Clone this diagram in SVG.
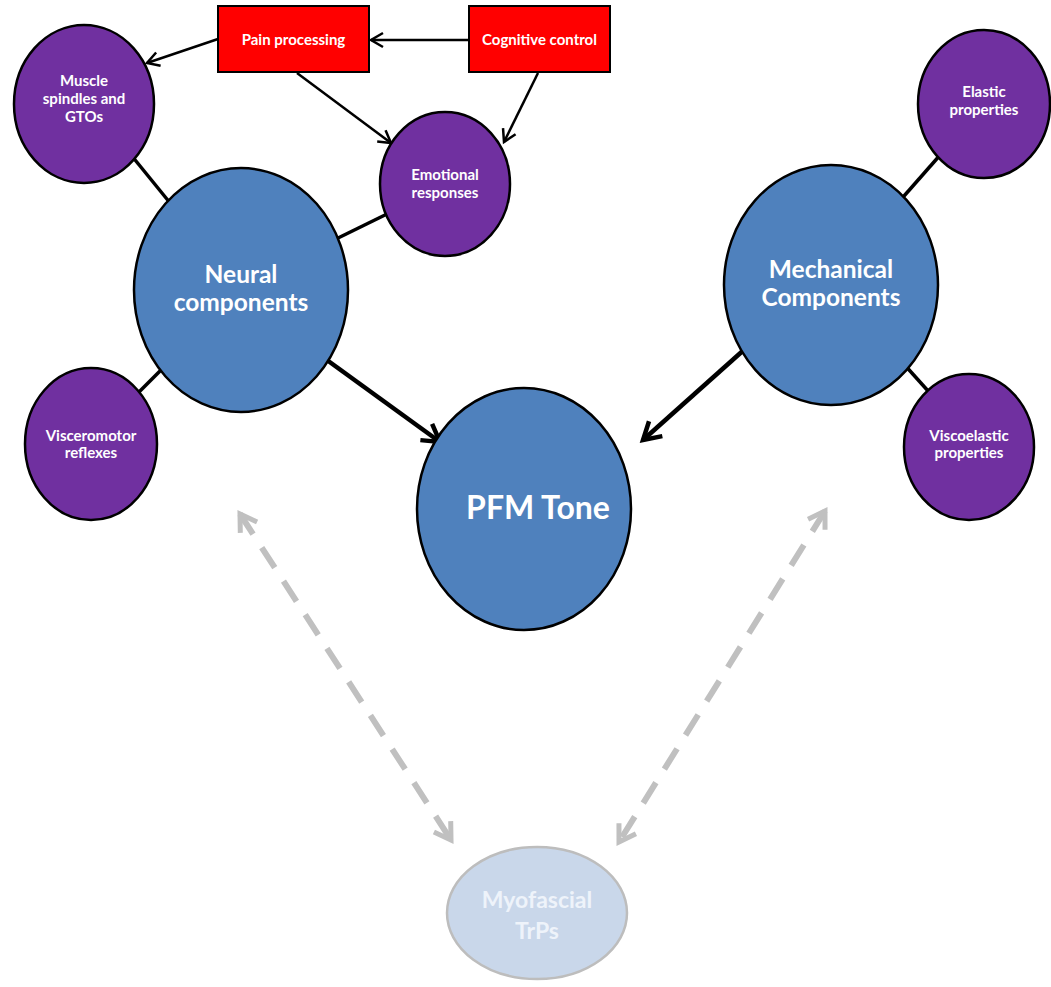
<svg xmlns="http://www.w3.org/2000/svg" width="1051" height="987" viewBox="0 0 1051 987">
<style>
.purple{fill:#7030a0;stroke:#000;stroke-width:2.5}
.blue{fill:#4f81bd;stroke:#000;stroke-width:2.5}
.red{fill:#ff0000;stroke:#000;stroke-width:2}
.faint{fill:#c9d7ea;stroke:#bdbdbd;stroke-width:2.5}
text{font-family:Lato,"Liberation Sans",sans-serif;font-weight:bold;fill:#fff;text-anchor:middle}
.s{font-size:15px}
.m{font-size:24.5px}
.l{font-size:32px}
.f{font-size:23px;fill:#eef3fa}
.thin{stroke:#000;stroke-width:2.5;fill:none}
.link{stroke:#000;stroke-width:3.5;fill:none}
.thick{stroke:#000;stroke-width:4.5;fill:none}
.dash{stroke:#c0c0c0;stroke-width:6;fill:none;stroke-dasharray:24 16}
</style>
<defs>
<marker id="a1" markerUnits="userSpaceOnUse" viewBox="-16 -10 18 20" refX="0" refY="0" markerWidth="18" markerHeight="20" orient="auto" overflow="visible"><path d="M-12,-7 L0,0 L-12,7" fill="none" stroke="#000" stroke-width="2.5"/></marker>
<marker id="a2" markerUnits="userSpaceOnUse" viewBox="-22 -14 24 28" refX="0" refY="0" markerWidth="24" markerHeight="28" orient="auto" overflow="visible"><path d="M-17,-10 L0,0 L-17,10" fill="none" stroke="#000" stroke-width="4.5"/></marker>
<marker id="a3" markerUnits="userSpaceOnUse" viewBox="-22 -14 24 28" refX="0" refY="0" markerWidth="24" markerHeight="28" orient="auto-start-reverse" overflow="visible"><path d="M-16,-10 L0,0 L-16,10" fill="none" stroke="#c0c0c0" stroke-width="5"/></marker>
</defs>
<g id="connectors">
<line class="link" x1="127" y1="150" x2="175" y2="209"/>
<line class="link" x1="387" y1="214" x2="334" y2="240"/>
<line class="link" x1="168" y1="363" x2="137" y2="394"/>
<line class="link" x1="897" y1="204" x2="941" y2="154"/>
<line class="link" x1="902" y1="362" x2="929" y2="392"/>
<line class="thin" x1="218" y1="39" x2="147" y2="63" marker-end="url(#a1)"/>
<line class="thin" x1="469" y1="40" x2="371" y2="40" marker-end="url(#a1)"/>
<line class="thin" x1="297" y1="73" x2="391" y2="143" marker-end="url(#a1)"/>
<line class="thin" x1="538" y1="73" x2="504" y2="142" marker-end="url(#a1)"/>
<line class="thick" x1="320" y1="355" x2="440" y2="442" marker-end="url(#a2)"/>
<line class="thick" x1="746" y1="348" x2="643" y2="440" marker-end="url(#a2)"/>
<line class="dash" x1="240" y1="514" x2="451" y2="840" marker-start="url(#a3)" marker-end="url(#a3)"/>
<line class="dash" x1="825" y1="511" x2="619" y2="842" marker-start="url(#a3)" marker-end="url(#a3)"/>
</g>
<g id="pain-processing"><rect class="red" x="218" y="6" width="151" height="66"/><text class="s" x="293.5" y="45">Pain processing</text></g>
<g id="cognitive-control"><rect class="red" x="469" y="6" width="141" height="66"/><text class="s" x="539.5" y="45">Cognitive control</text></g>
<g id="muscle-spindles"><ellipse class="purple" cx="84" cy="104" rx="70" ry="79"/><text class="s" x="84" y="86">Muscle</text><text class="s" x="84" y="104">spindles and</text><text class="s" x="84" y="122">GTOs</text></g>
<g id="emotional-responses"><ellipse class="purple" cx="445" cy="184" rx="65" ry="72"/><text class="s" x="445" y="180">Emotional</text><text class="s" x="445" y="198">responses</text></g>
<g id="neural-components"><ellipse class="blue" cx="241" cy="290" rx="107" ry="122"/><text class="m" x="241" y="283">Neural</text><text class="m" x="241" y="311">components</text></g>
<g id="visceromotor-reflexes"><ellipse class="purple" cx="91" cy="444" rx="66" ry="76"/><text class="s" x="91" y="441">Visceromotor</text><text class="s" x="91" y="458">reflexes</text></g>
<g id="pfm-tone"><ellipse class="blue" cx="524" cy="509" rx="107" ry="121"/><text class="l" x="538" y="519">PFM Tone</text></g>
<g id="mechanical-components"><ellipse class="blue" cx="831" cy="285" rx="107" ry="120"/><text class="m" x="831" y="278">Mechanical</text><text class="m" x="831" y="306">Components</text></g>
<g id="elastic-properties"><ellipse class="purple" cx="984" cy="104" rx="66" ry="74"/><text class="s" x="984" y="97">Elastic</text><text class="s" x="984" y="115">properties</text></g>
<g id="viscoelastic-properties"><ellipse class="purple" cx="969" cy="447" rx="65" ry="73"/><text class="s" x="969" y="441">Viscoelastic</text><text class="s" x="969" y="458">properties</text></g>
<g id="myofascial-trps"><ellipse class="faint" cx="537" cy="913" rx="90" ry="66"/><text class="f" x="537" y="908">Myofascial</text><text class="f" x="537" y="939">TrPs</text></g>
</svg>
